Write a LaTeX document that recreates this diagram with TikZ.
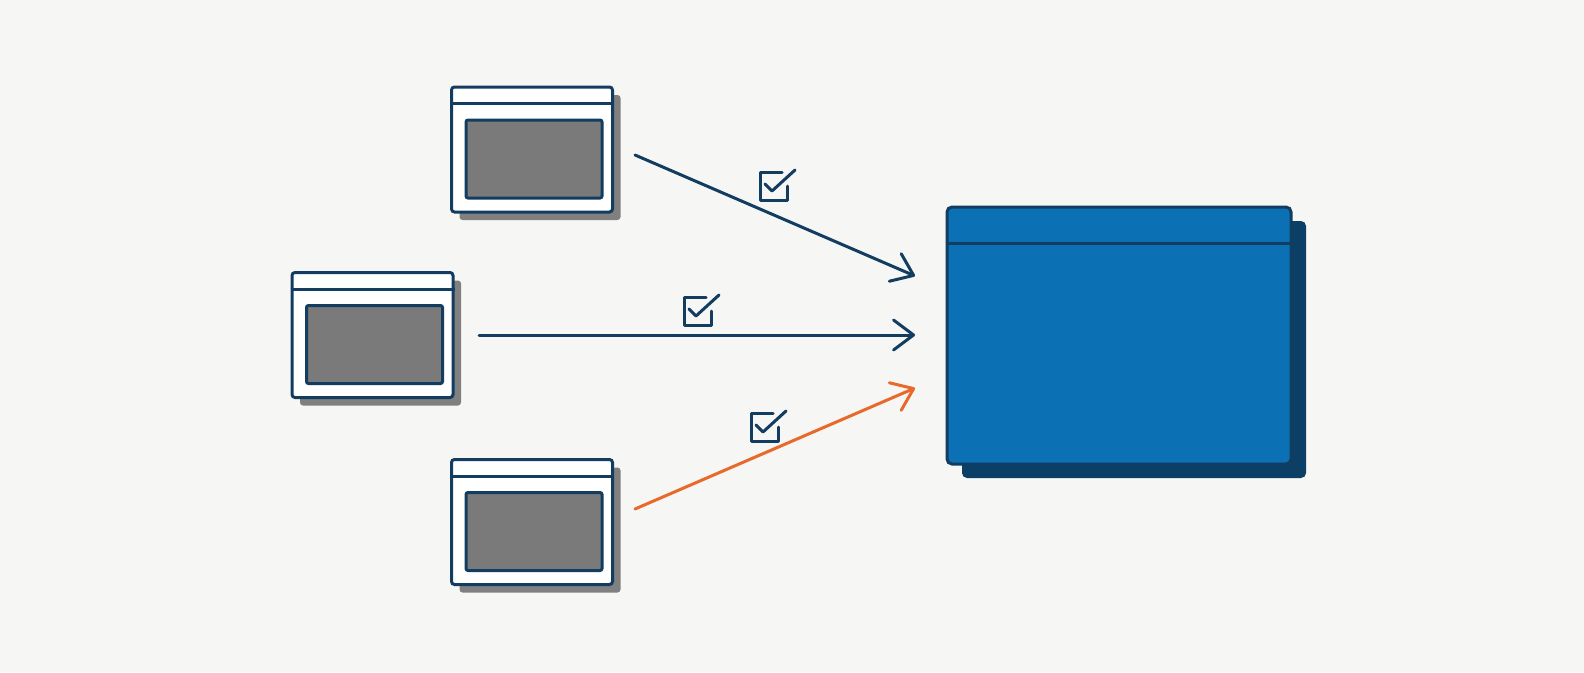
\documentclass[tikz,border=0pt]{standalone}
\usetikzlibrary{arrows.meta,shadows,calc}
\definecolor{bg}{HTML}{F6F6F5}
\definecolor{navy}{HTML}{123D61}
\definecolor{grayfill}{HTML}{7A7A7A}
\definecolor{shgray}{HTML}{808080}
\definecolor{blue1}{HTML}{0B70B4}
\definecolor{blueshadow}{HTML}{0B3F66}
\definecolor{orange1}{HTML}{E8692A}
\begin{document}
\begin{tikzpicture}[x=1pt,y=-1pt,line width=3pt,
  smallwin/.style={draw=navy, fill=white, rounded corners=3pt, minimum width=161pt, minimum height=125pt, inner sep=0pt, line width=3pt,
    drop shadow={shadow xshift=8pt, shadow yshift=-8pt, fill=shgray, opacity=1}},
  pane/.style={draw=navy, fill=grayfill, rounded corners=2pt, minimum width=136pt, minimum height=78pt, inner sep=0pt, line width=3pt},
  bigwin/.style={draw=navy, fill=blue1, rounded corners=5pt, minimum width=344pt, minimum height=257pt, inner sep=0pt, line width=3pt,
    drop shadow={shadow xshift=15pt, shadow yshift=-14pt, fill=blueshadow, opacity=1}},
  arrowline/.style={draw=navy, line width=3pt, line cap=round, -{Straight Barb[length=20pt,width=30pt,round]}},
  checkbox/.pic={
    \draw[navy, line width=3pt, line cap=round, line join=round] (22,0) -- (0,0) -- (0,28) -- (27,28) -- (27,14);
    \draw[navy, line width=3pt, line cap=round, line join=round] (5,12) -- (12,19) -- (35,-2);
  }]
\fill[bg] (0,0) rectangle (1584,672);
\useasboundingbox (0,0) rectangle (1584,672);

% small windows
\node[smallwin] (w1) at (532,149.5) {};
\node[smallwin] (w2) at (372.5,335) {};
\node[smallwin] (w3) at (532,522) {};
\foreach \w in {w1,w2,w3}{
  \draw[navy] ($(\w.north west)+(0,18)$) -- ($(\w.north east)+(0,18)$);
  \node[pane] (\w p) at ($(\w.center)+(2,9.5)$) {};
}

% big window
\node[bigwin] (big) at (1119,335.5) {};
\draw[navy] ($(big.north west)+(0,38)$) -- ($(big.north east)+(0,38)$);

% arrows
\coordinate (a1s) at (635,155);
\coordinate (a1e) at (915,276);
\coordinate (a2s) at (479,335);
\coordinate (a2e) at (915,335);
\coordinate (a3s) at (635,509);
\coordinate (a3e) at (915,388);
\draw[arrowline] (a1s) -- (a1e);
\draw[arrowline] (a2s) -- (a2e);
\draw[arrowline, draw=orange1] (a3s) -- (a3e);

% check icons
\pic at (760,172) {checkbox};
\pic at (684,297) {checkbox};
\pic at (751,413) {checkbox};
\end{tikzpicture}
\end{document}
